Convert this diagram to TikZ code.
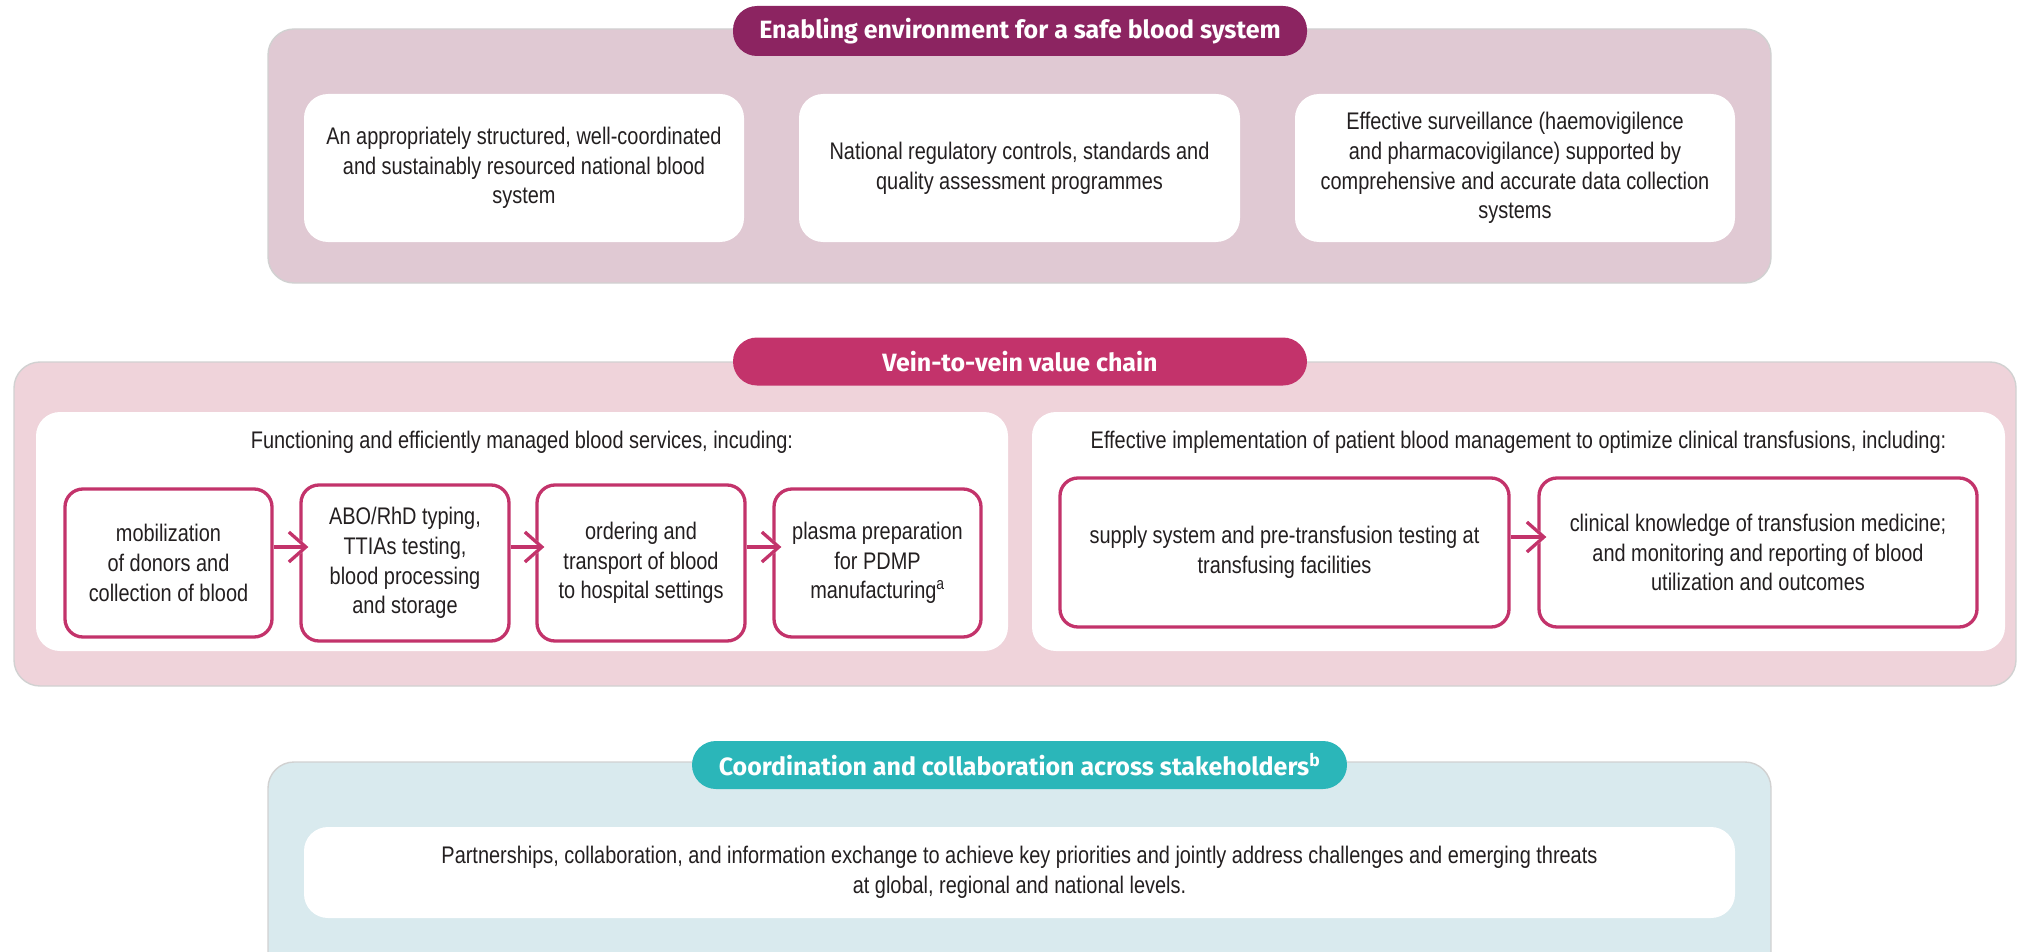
\documentclass[tikz,border=0pt]{standalone}
\usepackage{fontspec}
\setmainfont{Liberation Sans}[FakeStretch=0.83]
\newfontfamily\headfont{Fira Sans}
\usetikzlibrary{arrows.meta}

\definecolor{plum}{HTML}{8C2461}
\definecolor{plumbg}{HTML}{E0C9D3}
\definecolor{rose}{HTML}{C3336B}
\definecolor{rosebg}{HTML}{EFD3DA}
\definecolor{tealhd}{HTML}{2BB6B9}
\definecolor{tealbg}{HTML}{D9EAEE}
\definecolor{ink}{HTML}{231F20}

\newcommand{\bodysize}{\fontsize{24}{29.6}\selectfont}

\begin{document}
\begin{tikzpicture}[x=1pt,y=-1pt,
  panel/.style={rounded corners=26pt, draw=black!18, line width=1.4pt, inner sep=0pt},
  pill/.style={rounded corners=24pt, text=white, inner sep=0pt,
    font=\headfont\bfseries\fontsize{25}{29}\selectfont},
  card/.style={fill=white, rounded corners=24pt, inner sep=0pt, align=center,
    text=ink, font=\bodysize},
  stepbox/.style={draw=rose, line width=3.3pt, fill=white, rounded corners=18pt,
    inner sep=0pt, align=center, text=ink, font=\bodysize},
  caption/.style={text=ink, font=\bodysize, inner sep=0pt},
  halo/.style={white, line width=11pt, -{Straight Barb[length=17pt,width=30pt]}},
  link/.style={rose, line width=3.3pt, -{Straight Barb[length=17pt,width=30pt]}}
]
\clip (0,0) rectangle (2018,952);

% ---- enabling environment ----
\node[panel, fill=plumbg, minimum width=1503pt, minimum height=254pt] (envpanel) at (1019.5,156) {};
\node[pill, fill=plum, minimum width=574pt, minimum height=50pt] (envtitle) at (1020,31)
  {Enabling environment for a safe blood system};
\node[card, minimum width=440pt, minimum height=148pt] (env1) at (524,168)
  {An appropriately structured, well-coordinated\\and sustainably resourced national blood\\system};
\node[card, minimum width=441pt, minimum height=148pt] (env2) at (1019.5,168)
  {National regulatory controls, standards and\\quality assessment programmes};
\node[card, minimum width=440pt, minimum height=148pt] (env3) at (1515,168)
  {Effective surveillance (haemovigilence\\and pharmacovigilance) supported by\\comprehensive and accurate data collection\\systems};

% ---- vein-to-vein value chain ----
\node[panel, fill=rosebg, minimum width=2002pt, minimum height=324pt] (chainpanel) at (1015,524) {};
\node[pill, fill=rose, minimum width=574pt, minimum height=48pt] (chaintitle) at (1020,361.5)
  {Vein-to-vein value chain};
\node[card, minimum width=972pt, minimum height=239pt] (services) at (522,531.5) {};
\node[card, minimum width=973pt, minimum height=239pt] (pbm) at (1518.5,531.5) {};
\node[caption] (servicescap) at (522,442)
  {Functioning and efficiently managed blood services, incuding:};
\node[caption] (pbmcap) at (1518.5,442)
  {Effective implementation of patient blood management to optimize clinical transfusions, including:};

\node[stepbox, minimum width=207pt, minimum height=148pt] (mob) at (168.5,563)
  {mobilization\\of donors and\\collection of blood};
\node[stepbox, minimum width=208pt, minimum height=156pt] (test) at (405,563)
  {ABO/RhD typing,\\TTIAs testing,\\blood processing\\and storage};
\node[stepbox, minimum width=208pt, minimum height=156pt] (order) at (641,563)
  {ordering and\\transport of blood\\to hospital settings};
\node[stepbox, minimum width=207pt, minimum height=148pt] (plasma) at (877.5,563)
  {plasma preparation\\for PDMP\\manufacturing\textsuperscript{a}};

\node[stepbox, minimum width=449pt, minimum height=149pt] (supply) at (1284.5,552.5)
  {supply system and pre-transfusion testing at\\transfusing facilities};
\node[stepbox, minimum width=438pt, minimum height=149pt] (clinic) at (1758,552.5)
  {clinical knowledge of transfusion medicine;\\and monitoring and reporting of blood\\utilization and outcomes};

% arrows between the steps, cut out of the box outlines by a white halo
\foreach \from/\to/\dy in {mob/test/16pt, test/order/16pt, order/plasma/16pt, supply/clinic/15.5pt}{
  \draw[halo] ([yshift=\dy, xshift=2pt]\from.east) -- ([yshift=\dy, xshift=9pt]\to.west);
  \draw[link] ([yshift=\dy]\from.east) -- ([yshift=\dy, xshift=9pt]\to.west);
}

% ---- coordination ----
\node[panel, fill=tealbg, minimum width=1503pt, minimum height=260pt] (coordpanel) at (1019.5,892) {};
\node[pill, fill=tealhd, minimum width=655pt, minimum height=48pt] (coordtitle) at (1019.5,765)
  {Coordination and collaboration across stakeholders\textsuperscript{b}};
\node[card, minimum width=1431pt, minimum height=91pt] (coord) at (1019.5,872.5)
  {Partnerships, collaboration, and information exchange to achieve key priorities and jointly address challenges and emerging threats\\at global, regional and national levels.};
\end{tikzpicture}
\end{document}
